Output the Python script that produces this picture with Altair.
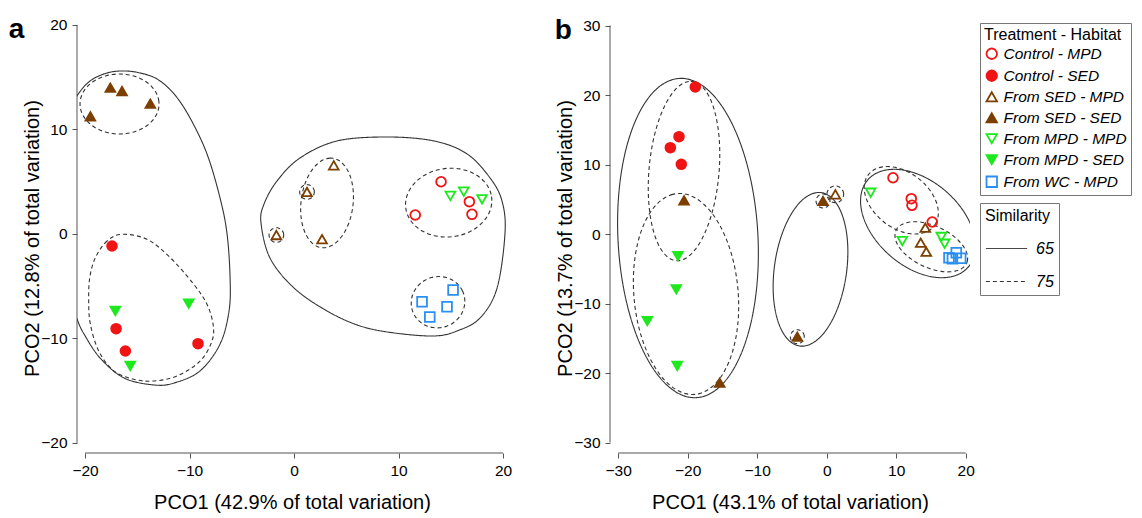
import altair as alt
import numpy as np
import pandas as pd

FONT = "Liberation Sans"

# ---------------- legend categories ----------------
categories = ["Control - MPD", "Control - SED", "From SED - MPD", "From SED - SED",
              "From MPD - MPD", "From MPD - SED", "From WC - MPD"]
stroke_colors = ["#f01414", "#f01414", "#7d3f00", "#7d3f00", "#1ee81e", "#1ee81e", "#2a8ff0"]
fill_colors = ["transparent", "#f01414", "transparent", "#7d3f00", "transparent", "#1ee81e", "transparent"]
symbol_shapes = ["circle", "circle", "triangle-up", "triangle-up", "triangle-down", "triangle-down", "square"]

# ---------------- panel a points (PCO1, PCO2) ----------------
a_ctrl_mpd_x = [14.07, 11.60, 16.78, 17.03]
a_ctrl_mpd_y = [5.00, 1.82, 3.09, 1.88]
a_ctrl_sed_x = [-17.42, -17.03, -16.14, -9.19]
a_ctrl_sed_y = [-1.15, -9.06, -11.20, -10.50]
a_sed_mpd_x = [3.80, 1.24, -1.69, 2.68]
a_sed_mpd_y = [6.57, 4.02, -0.10, -0.50]
a_sed_sed_x = [-17.58, -16.46, -13.75, -19.49]
a_sed_sed_y = [14.00, 13.68, 12.47, 11.26]
a_mpd_mpd_x = [14.96, 16.24, 17.99]
a_mpd_mpd_y = [3.64, 4.05, 3.32]
a_mpd_sed_x = [-17.10, -10.08, -15.67]
a_mpd_sed_y = [-7.37, -6.67, -12.63]
a_wc_mpd_x = [15.22, 12.25, 14.64, 12.99]
a_wc_mpd_y = [-5.36, -6.48, -6.96, -7.94]

# ---------------- panel b points ----------------
b_ctrl_mpd_x = [9.54, 12.17, 12.27, 15.19]
b_ctrl_mpd_y = [8.10, 5.08, 4.13, 1.73]
b_ctrl_sed_x = [-18.91, -21.25, -22.50, -20.92]
b_ctrl_sed_y = [21.15, 14.00, 12.42, 10.03]
b_sed_mpd_x = [1.24, 14.19, 13.53, 14.33]
b_sed_mpd_y = [5.71, 0.91, -1.25, -2.55]
b_sed_sed_x = [-20.53, -15.40, -0.53, -4.23]
b_sed_sed_y = [4.85, -21.40, 4.75, -14.78]
b_mpd_mpd_x = [6.33, 10.88, 16.49, 16.98]
b_mpd_mpd_y = [5.94, -1.01, -0.43, -1.40]
b_mpd_sed_x = [-21.40, -21.64, -25.81, -21.50]
b_mpd_sed_y = [-3.17, -7.96, -12.52, -18.99]
b_wc_mpd_x = [17.60, 18.65, 19.28, 18.09]
b_wc_mpd_y = [-3.41, -2.69, -3.50, -3.55]

# ---------------- similarity outlines ----------------
# panel a, free-form outlines (control points of closed smooth curves)
a_left65_x = [-20.77, -19.52, -17.89, -16.27, -14.74, -13.11, -11.48, -9.95, -8.33, -7.08, -6.41,
              -6.12, -6.22, -7.08, -9.00, -11.48, -13.40, -16.27, -18.56, -20.10, -20.77, -21.72,
              -22.30, -21.72]
a_left65_y = [13.21, 14.64, 15.41, 15.60, 15.41, 14.83, 13.40, 11.10, 7.66, 3.44, 0.00,
              -4.21, -7.37, -10.53, -13.11, -14.26, -14.45, -13.78, -11.87, -9.57, -8.13, -5.45,
              3.16, 11.29]
a_right65_x = [-3.16, -2.87, -1.63, 0.57, 4.11, 8.90, 13.40, 16.56, 18.76, 19.90, 20.19, 19.43,
               17.80, 15.60, 13.40, 9.57, 6.32, 3.16, 0.00, -2.30]
a_right65_y = [1.05, 2.87, 5.07, 7.27, 8.90, 9.28, 8.90, 7.66, 5.36, 3.16, 0.10, -5.17,
               -8.04, -9.28, -9.76, -9.47, -8.80, -7.37, -5.17, -2.30]
a_low75_x = [-16.46, -17.89, -19.01, -19.55, -19.65, -19.49, -18.69, -17.25, -15.34, -13.43, -11.20,
             -8.97, -7.85, -7.75, -8.33, -9.60, -11.84, -14.07]
a_low75_y = [-0.03, -0.67, -2.27, -4.18, -6.41, -8.64, -11.20, -13.11, -13.90, -14.07, -13.59,
             -12.15, -10.24, -8.64, -6.73, -4.81, -2.27, -0.51]

# elliptical outlines: centre, semi-axes, tilt (deg), similarity level
a_ell_cx = [-16.70, 3.16, 1.24, -1.69, 14.80, 13.78]
a_ell_cy = [12.44, 2.97, 4.02, -0.10, 3.00, -6.53]
a_ell_ra = [3.78, 4.31, 0.70, 0.70, 4.14, 2.58]
a_ell_rb = [2.87, 2.49, 0.70, 0.70, 3.28, 2.44]
a_ell_ang = [0, 83, 0, 0, 7, 20]
a_ell_sim = ["75", "75", "75", "75", "75", "75"]

b_ell_cx = [-19.96, -2.33, 13.14, -20.53, -20.24, 10.73, 15.05, -0.53, 1.24, -4.23]
b_ell_cy = [-0.58, -5.08, 1.51, 9.06, -8.63, 4.85, -1.84, 4.75, 5.71, -14.78]
b_ell_ra = [23.0, 11.14, 9.57, 12.95, 14.5, 6.0, 5.6, 1.0, 1.2, 1.0]
b_ell_rb = [10.07, 5.2, 6.13, 5.04, 7.5, 4.0, 3.0, 1.0, 1.2, 1.0]
b_ell_ang = [93, 82, -41, 85, 95, -38, -25, 0, 0, 0]
b_ell_sim = ["65", "65", "65", "75", "75", "75", "75", "75", "75", "75"]

# tick values
a_ticks = [-20, -10, 0, 10, 20]
b_xticks = [-30, -20, -10, 0, 10, 20]
b_yticks = [-30, -20, -10, 0, 10, 20, 30]


def points_frame(groups):
    rows = []
    for cat, xs, ys in groups:
        for x, y in zip(xs, ys):
            rows.append({"x": x, "y": y, "cat": cat})
    return pd.DataFrame(rows)


def outline_frame(free, ell):
    rows = []
    k = 0
    for xs, ys, sim in free:
        for i, (x, y) in enumerate(zip(xs, ys)):
            rows.append({"x": x, "y": y, "id": k, "i": i, "sim": sim})
        k += 1
    for cx, cy, ra, rb, ang, sim in zip(*ell):
        t = np.linspace(0, 2 * np.pi, 72, endpoint=False)
        th = np.radians(ang)
        xs = cx + ra * np.cos(t) * np.cos(th) - rb * np.sin(t) * np.sin(th)
        ys = cy + ra * np.cos(t) * np.sin(th) + rb * np.sin(t) * np.cos(th)
        for i, (x, y) in enumerate(zip(xs, ys)):
            rows.append({"x": float(x), "y": float(y), "id": k, "i": i, "sim": sim})
        k += 1
    return pd.DataFrame(rows)


pts_a = points_frame([
    ("Control - MPD", a_ctrl_mpd_x, a_ctrl_mpd_y), ("Control - SED", a_ctrl_sed_x, a_ctrl_sed_y),
    ("From SED - MPD", a_sed_mpd_x, a_sed_mpd_y), ("From SED - SED", a_sed_sed_x, a_sed_sed_y),
    ("From MPD - MPD", a_mpd_mpd_x, a_mpd_mpd_y), ("From MPD - SED", a_mpd_sed_x, a_mpd_sed_y),
    ("From WC - MPD", a_wc_mpd_x, a_wc_mpd_y)])
pts_b = points_frame([
    ("Control - MPD", b_ctrl_mpd_x, b_ctrl_mpd_y), ("Control - SED", b_ctrl_sed_x, b_ctrl_sed_y),
    ("From SED - MPD", b_sed_mpd_x, b_sed_mpd_y), ("From SED - SED", b_sed_sed_x, b_sed_sed_y),
    ("From MPD - MPD", b_mpd_mpd_x, b_mpd_mpd_y), ("From MPD - SED", b_mpd_sed_x, b_mpd_sed_y),
    ("From WC - MPD", b_wc_mpd_x, b_wc_mpd_y)])

out_a = outline_frame(
    [(a_left65_x, a_left65_y, "65"), (a_right65_x, a_right65_y, "65"), (a_low75_x, a_low75_y, "75")],
    (a_ell_cx, a_ell_cy, a_ell_ra, a_ell_rb, a_ell_ang, a_ell_sim))
out_b = outline_frame([], (b_ell_cx, b_ell_cy, b_ell_ra, b_ell_rb, b_ell_ang, b_ell_sim))

point_legend = alt.Legend(
    title="Treatment - Habitat", orient="right", offset=5, padding=4,
    strokeColor="#777", labelFont=FONT, labelFontSize=15.5, labelFontStyle="italic",
    labelColor="black", titleFont=FONT, titleFontSize=16, titleFontWeight="normal",
    titleColor="black", symbolSize=110, symbolStrokeWidth=1.8, rowPadding=3,
    labelOffset=4, titlePadding=3)
dash_legend = alt.Legend(
    title="Similarity", orient="right", offset=5, padding=5,
    strokeColor="#777", labelFont=FONT, labelFontSize=16, labelFontStyle="italic",
    labelColor="black", titleFont=FONT, titleFontSize=16, titleFontWeight="normal",
    titleColor="black", symbolSize=1700, symbolStrokeWidth=1, symbolStrokeColor="#333",
    rowPadding=3, labelOffset=8, titlePadding=3)


def panel(pts, outl, xdom, ydom, w, h, xticks, yticks, xtitle, ytitle, letter, letter_dx):
    xs = alt.Scale(domain=xdom, nice=False, zero=False)
    ys = alt.Scale(domain=ydom, nice=False, zero=False)
    common = dict(domain=False, grid=False, tickSize=5, tickColor="#555", labelFont=FONT,
                  labelFontSize=15.5, labelColor="black", titleFont=FONT, titleFontSize=20,
                  titleFontWeight="normal", titleColor="black", labelFlush=False)
    xax = alt.Axis(values=xticks, title=xtitle, labelPadding=5, titlePadding=14, **common)
    yax = alt.Axis(values=yticks, title=ytitle, labelPadding=5, titlePadding=-2, **common)

    sx = alt.X("x:Q", scale=xs)
    sy = alt.Y("y:Q", scale=ys)
    shape_enc = alt.Shape("cat:N", scale=alt.Scale(domain=categories, range=symbol_shapes), legend=point_legend)
    stroke_enc = alt.Stroke("cat:N", scale=alt.Scale(domain=categories, range=stroke_colors), legend=point_legend)
    fill_enc = alt.Fill("cat:N", scale=alt.Scale(domain=categories, range=fill_colors), legend=point_legend)

    # zero-size copy of the points, first in the layer so its legend comes first
    legend_carrier = alt.Chart(pts).mark_point(opacity=1, size=0, strokeWidth=1.8).encode(
        x=alt.X("x:Q", scale=xs, axis=xax), y=alt.Y("y:Q", scale=ys, axis=yax),
        shape=shape_enc, stroke=stroke_enc, fill=fill_enc)
    lines = alt.Chart(outl).mark_line(
        clip=True, interpolate="cardinal-closed", color="#333", strokeWidth=1.1
    ).encode(
        x=sx, y=sy,
        detail="id:N",
        order="i:Q",
        strokeDash=alt.StrokeDash("sim:N", scale=alt.Scale(domain=["65", "75"], range=[[1, 0], [4, 3]]),
                                  legend=dash_legend),
    )
    points = alt.Chart(pts).mark_point(opacity=1, size=95, strokeWidth=1.8).encode(
        x=sx, y=sy, shape=shape_enc, stroke=stroke_enc, fill=fill_enc)
    axes_df = pd.DataFrame({
        "x": [xdom[0], xticks[0]], "x2": [xdom[0], xticks[-1]],
        "y": [yticks[0], ydom[0]], "y2": [yticks[-1], ydom[0]]})
    axis_lines = alt.Chart(axes_df).mark_rule(color="#555", strokeWidth=1).encode(
        x=sx, x2="x2:Q", y=sy, y2="y2:Q")
    return alt.layer(legend_carrier, axis_lines, lines, points).properties(
        width=w, height=h,
        title=alt.TitleParams(text=letter, anchor="start", frame="bounds", fontSize=28,
                              fontWeight="bold", font=FONT, color="black", offset=0, dy=26,
                              dx=letter_dx),
    )


pa = panel(pts_a, out_a, [-20.77, 20.38], [-20.96, 20.19], 430, 430, a_ticks, a_ticks,
           "PCO1 (42.9% of total variation)", "PCO2 (12.8% of total variation)", "a", -14)
pb = panel(pts_b, out_b, [-31.18, 20.62], [-31.51, 30.36], 360, 430, b_xticks, b_yticks,
           "PCO1 (43.1% of total variation)", "PCO2 (13.7% of total variation)", "b", -1)

chart = alt.hconcat(pa, pb, spacing=42).configure(
    padding={"left": 0, "top": 7, "right": 0, "bottom": 0},
    background="white",
).configure_view(stroke=None)

chart.save("out.html", embed_options={"renderer": "svg", "actions": False})
